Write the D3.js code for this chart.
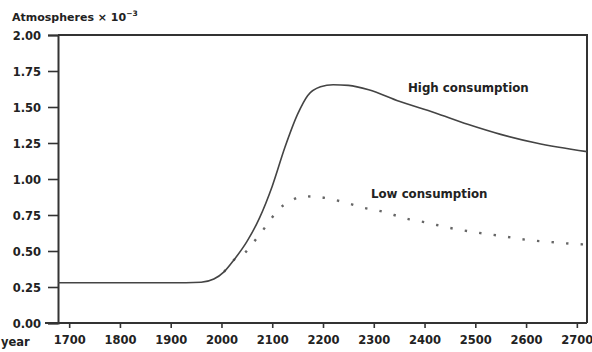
<!DOCTYPE html>
<html><head><meta charset="utf-8">
<script src="https://cdn.jsdelivr.net/npm/d3@7"></script>
<style>
html,body{margin:0;padding:0;background:#fff;}
text{font-family:"DejaVu Sans",sans-serif;font-weight:bold;fill:#222;}
</style></head>
<body><svg id="c" width="592" height="352"></svg>
<script>
const xTicks = [1700,1800,1900,2000,2100,2200,2300,2400,2500,2600,2700];
const yTicks = [0,0.25,0.5,0.75,1.0,1.25,1.5,1.75,2.0];
const highYears  = [1678,1750,1850,1930,1960,1985,2005,2025,2050,2075,2100,2125,2150,2170,2195,2220,2250,2290,2350,2420,2485,2550,2620,2720];
const highValues = [0.28,0.28,0.28,0.28,0.283,0.305,0.355,0.44,0.565,0.73,0.95,1.22,1.45,1.58,1.64,1.655,1.65,1.62,1.54,1.46,1.38,1.31,1.25,1.19];
const lowYears  = [2005,2025,2047,2063,2080,2095,2112,2135,2161,2191,2220,2250,2280,2310,2340,2370,2400,2450,2500,2550,2600,2650,2700,2720];
const lowValues = [0.355,0.44,0.49,0.56,0.636,0.71,0.787,0.845,0.88,0.875,0.857,0.83,0.80,0.78,0.75,0.72,0.70,0.66,0.63,0.605,0.578,0.562,0.548,0.545];
const labels = {high:"High consumption", low:"Low consumption"};

const svg = d3.select("#c");
const x = d3.scaleLinear().domain([1678,2720]).range([58,587]);
const y = d3.scaleLinear().domain([0,2]).range([323,35]);

svg.append("path").attr("d",`M${x.range()[0]},${y(2)}H${x.range()[1]}V${y(0)}`)
  .attr("fill","none").attr("stroke","#333").attr("stroke-width",2);

const yAxis = d3.axisLeft(y).tickValues(yTicks).tickFormat(d3.format(".2f")).tickSize(10).tickPadding(7);
const gy = svg.append("g").attr("transform",`translate(${x.range()[0]},0)`).call(yAxis);
gy.select(".domain").attr("stroke","#333").attr("stroke-width",2);
gy.selectAll(".tick line").attr("stroke","#333").attr("stroke-width",1.6);
gy.selectAll(".tick text").style("font-size","11.5px").attr("fill","#222").attr("dy","0.4em");

const xAxis = d3.axisBottom(x).tickValues(xTicks).tickFormat(d3.format("d")).tickSize(5).tickPadding(8);
const gx = svg.append("g").attr("transform",`translate(0,${y(0)})`).call(xAxis);
gx.select(".domain").attr("stroke","#333").attr("stroke-width",2).attr("d",`M45,0H${x.range()[1]}`);
gx.selectAll(".tick line").attr("stroke","#333").attr("stroke-width",1.6);
gx.selectAll(".tick text").style("font-size","11.5px").attr("fill","#222");

svg.append("text").attr("x",1).attr("y",346).style("font-size","11.5px").text("year");

const t = svg.append("text").attr("x",12).attr("y",21).style("font-size","11px");
t.append("tspan").text("Atmospheres × 10");
t.append("tspan").attr("dy",-5).style("font-size","7.5px").text("−3");

const line = d3.line().x(d=>x(d[0])).y(d=>y(d[1])).curve(d3.curveMonotoneX);
svg.append("path").datum(lowYears.map((v,i)=>[v,lowValues[i]]))
  .attr("d",line).attr("fill","none").attr("stroke","#666").attr("stroke-width",2.4)
  .attr("stroke-dasharray","2.4,12.2");
svg.append("path").datum(highYears.map((v,i)=>[v,highValues[i]]))
  .attr("d",line).attr("fill","none").attr("stroke","#444").attr("stroke-width",1.6);

svg.append("text").attr("x",408).attr("y",92).style("font-size","11.8px").text(labels.high);
svg.append("text").attr("x",371).attr("y",198).style("font-size","11.8px").text(labels.low);
</script></body></html>
